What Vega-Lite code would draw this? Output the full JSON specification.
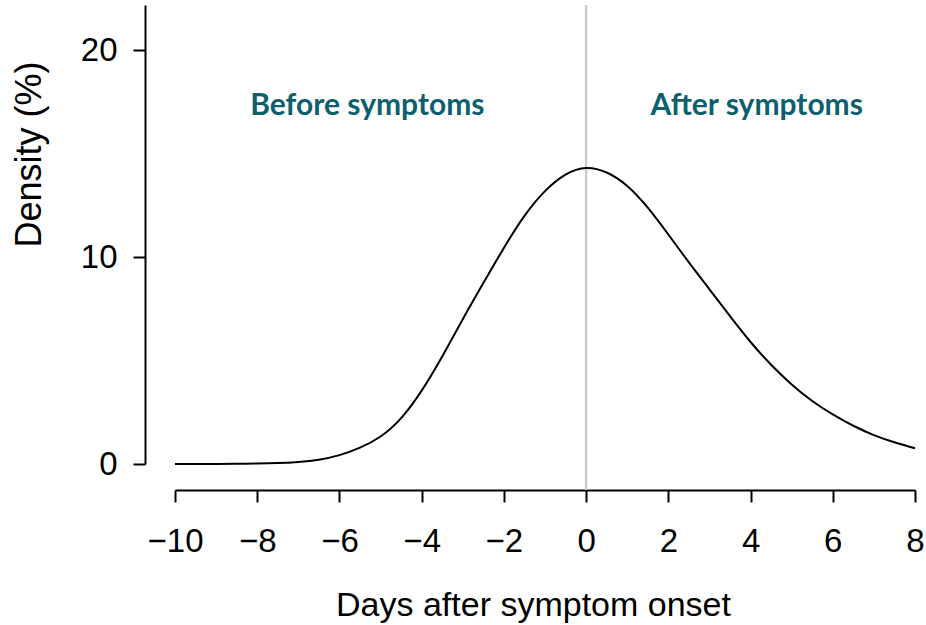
{
  "$schema": "https://vega.github.io/schema/vega-lite/v6.json",
  "width": 740,
  "height": 459,
  "autosize": {"type": "none"},
  "padding": {"left": 175, "top": 5, "right": 11, "bottom": 161},
  "background": "white",
  "config": {
    "view": {"stroke": null},
    "font": "Liberation Sans",
    "axis": {
      "grid": false,
      "domainColor": "black",
      "domainWidth": 2,
      "tickColor": "black",
      "tickWidth": 2,
      "tickSize": 12,
      "labelFont": "Liberation Sans",
      "labelFontSize": 33,
      "labelColor": "black",
      "titleFont": "Liberation Sans",
      "titleFontWeight": "normal",
      "titleColor": "black"
    }
  },
  "datasets": {
    "curve": [
      {"day": -10, "density": 0.0},
      {"day": -9.5, "density": 0.002},
      {"day": -9, "density": 0.005},
      {"day": -8.5, "density": 0.01},
      {"day": -8, "density": 0.02},
      {"day": -7.5, "density": 0.045},
      {"day": -7, "density": 0.1},
      {"day": -6.5, "density": 0.21},
      {"day": -6, "density": 0.43},
      {"day": -5.5, "density": 0.79},
      {"day": -5, "density": 1.33},
      {"day": -4.5, "density": 2.22},
      {"day": -4, "density": 3.55},
      {"day": -3.5, "density": 5.2},
      {"day": -3, "density": 7.0},
      {"day": -2.5, "density": 8.75},
      {"day": -2, "density": 10.45},
      {"day": -1.5, "density": 12.0},
      {"day": -1, "density": 13.2},
      {"day": -0.5, "density": 14.0},
      {"day": 0, "density": 14.32},
      {"day": 0.5, "density": 14.1},
      {"day": 1, "density": 13.45},
      {"day": 1.5, "density": 12.4},
      {"day": 2, "density": 11.1},
      {"day": 2.5, "density": 9.75},
      {"day": 3, "density": 8.45},
      {"day": 3.5, "density": 7.15},
      {"day": 4, "density": 5.9},
      {"day": 4.5, "density": 4.8},
      {"day": 5, "density": 3.85},
      {"day": 5.5, "density": 3.05},
      {"day": 6, "density": 2.4},
      {"day": 6.5, "density": 1.85},
      {"day": 7, "density": 1.4},
      {"day": 7.5, "density": 1.05},
      {"day": 8, "density": 0.76}
    ],
    "onset": [{"day": 0, "top": 22.2, "bottom": -1.26}],
    "labels": [
      {"day": -5.32, "density": 17.3, "text": "Before symptoms"},
      {"day": 4.15, "density": 17.3, "text": "After symptoms"}
    ]
  },
  "layer": [
    {
      "data": {"name": "onset"},
      "mark": {"type": "rule", "color": "#cccccc", "strokeWidth": 2.5, "clip": false},
      "encoding": {
        "x": {"field": "day", "type": "quantitative", "scale": {"domain": [-10, 8]}},
        "y": {"field": "top", "type": "quantitative", "scale": {"domain": [0, 22.2]}},
        "y2": {"field": "bottom"}
      }
    },
    {
      "data": {"name": "curve"},
      "mark": {"type": "line", "color": "black", "strokeWidth": 2, "interpolate": "natural"},
      "encoding": {
        "x": {
          "field": "day",
          "type": "quantitative",
          "scale": {"domain": [-10, 8], "nice": false, "zero": false},
          "axis": {
            "values": [-10, -8, -6, -4, -2, 0, 2, 4, 6, 8],
            "offset": 26,
            "labelPadding": 23,
            "labelFlush": false,
            "labelOverlap": false,
            "title": "Days after symptom onset",
            "titleFontSize": 34,
            "titleX": 358,
            "titleY": 125,
            "titleBaseline": "alphabetic",
            "titleAnchor": null
          }
        },
        "y": {
          "field": "density",
          "type": "quantitative",
          "scale": {"domain": [0, 22.2], "nice": false},
          "axis": {
            "values": [0, 10, 20],
            "offset": 30,
            "labelPadding": 16,
            "labelFlush": false,
            "title": "Density (%)",
            "titleFontSize": 36,
            "titleAngle": -90,
            "titleX": -116,
            "titleY": 149,
            "titleBaseline": "middle",
            "titleAlign": "center"
          }
        }
      }
    },
    {
      "data": {"name": "labels"},
      "mark": {"type": "text", "font": "Lato", "fontWeight": "bold", "fontSize": 30, "color": "#0d5f6e", "align": "center", "baseline": "middle"},
      "encoding": {
        "x": {"field": "day", "type": "quantitative"},
        "y": {"field": "density", "type": "quantitative"},
        "text": {"field": "text"}
      }
    }
  ]
}
